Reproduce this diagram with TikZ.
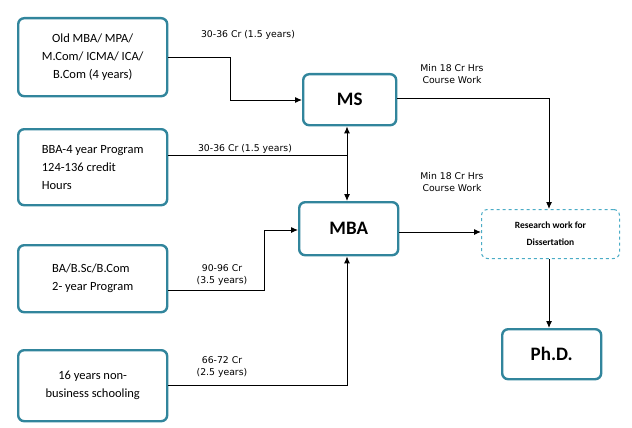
\documentclass[tikz,border=0pt]{standalone}
\usepackage{fontspec}
\setmainfont{Carlito}
\newfontfamily\lbl{DejaVu Sans}
\usetikzlibrary{arrows.meta}
\definecolor{tealb}{RGB}{49,133,156}
\definecolor{teall}{RGB}{75,172,198}
\begin{document}
\begin{tikzpicture}[x=1pt,y=-1pt,
 box/.style={draw=tealb,line width=2.4pt,rounded corners=6pt,fill=white,align=center,anchor=north west,inner sep=0pt},
 lab/.style={font=\lbl\fontsize{9.3}{12}\selectfont,align=center},
 arr/.style={-{Latex[length=7pt,width=6pt]},line width=1pt},
 txt/.style={font=\fontsize{12.5}{18}\selectfont}]
\useasboundingbox (0,0) rectangle (632,428);
\node[box,minimum width=149,minimum height=78,txt] (b1) at (17,17) {Old MBA/ MPA/\\M.Com/ ICMA/ ICA/\\B.Com (4 years)};
\node[box,minimum width=149,minimum height=76,txt,align=left] (b2) at (17,128) {BBA-4 year Program\\124-136 credit\\Hours};
\node[box,minimum width=149,minimum height=67,txt,align=left] (b3) at (17,244) {BA/B.Sc/B.Com\\2- year Program};
\node[box,minimum width=149,minimum height=71,txt] (b4) at (17,349) {16 years non-\\business schooling};
\node[box,minimum width=93,minimum height=51,font=\bfseries\fontsize{19}{22}\selectfont] (ms) at (302,73) {MS};
\node[box,minimum width=99,minimum height=53,font=\bfseries\fontsize{19}{22}\selectfont] (mba) at (298,201) {MBA};
\node[box,draw=teall,line width=1pt,dashed,minimum width=138,minimum height=49,font=\bfseries\fontsize{9.5}{17}\selectfont] (rw) at (481,209) {Research work for\\Dissertation};
\node[box,minimum width=99,minimum height=50,font=\bfseries\fontsize{19}{22}\selectfont] (phd) at (501,328) {Ph.D.};
\coordinate (j) at (347,155);
\draw[arr] (b1.east) -| (230,100) -- (ms.west |- 0,100);
\draw[line width=1pt] (b2.east |- j) -- (j);
\draw[arr,{Latex[length=7pt,width=6pt]}-{Latex[length=7pt,width=6pt]}] (ms.south -| j) -- (mba.north -| j);
\draw[arr] (b3.east |- 0,290) -- (264,290) |- (mba.west |- 0,230);
\draw[arr] (b4.east |- 0,385) -| (mba.south -| j);
\draw[arr] (ms.east |- 0,98) -| (rw.north -| 549,0);
\draw[arr] (mba.east |- 0,232) -- (rw.west |- 0,232);
\draw[arr] (rw.south -| 549,0) -- (phd.north -| 549,0);
\node[lab] at (248,35) {30-36 Cr (1.5 years)};
\node[lab] at (245,149) {30-36 Cr (1.5 years)};
\node[lab] at (222,275) {90-96 Cr\\(3.5 years)};
\node[lab] at (222,367) {66-72 Cr\\(2.5 years)};
\node[lab] at (452,74) {Min 18 Cr Hrs\\Course Work};
\node[lab] at (452,182) {Min 18 Cr Hrs\\Course Work};
\end{tikzpicture}
\end{document}
